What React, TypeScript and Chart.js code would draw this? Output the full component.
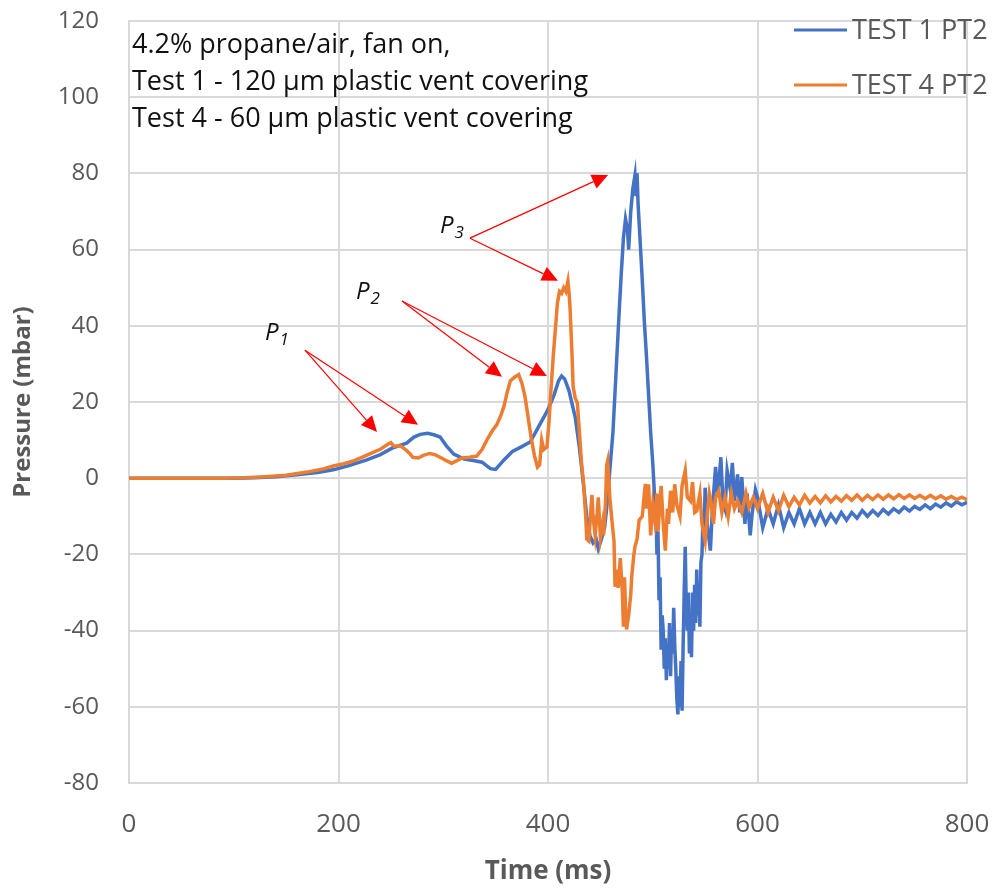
import React, { useEffect, useRef } from "react";
import { Chart, registerables } from "chart.js";

Chart.register(...registerables);

// ---------- DATA ----------
const TEST1_T: number[] = [0, 50, 100, 120, 140, 160, 180, 195, 210, 227, 240, 252, 265, 272, 278, 285, 291, 297, 303, 310, 320, 330, 337, 345, 350, 358, 366, 375, 383, 389, 395, 400, 406, 410, 413, 416, 420, 426, 430, 434, 437, 440, 443, 446, 448, 451, 454, 456, 459, 462, 465, 468, 470, 472, 474, 476, 477, 479, 481, 483, 484, 485, 486, 488, 490, 492, 494, 496, 498, 500, 502,
  503, 504, 505, 506, 507, 508, 509, 510, 511, 512, 513, 514, 515, 516, 517, 518, 519, 520, 521, 522, 523, 524, 525, 526, 527, 528, 529, 530, 531, 532, 533, 534, 535, 536, 537, 538, 539, 540, 541, 542, 543, 544, 545, 546, 547, 548, 549, 550,
  552, 555, 557, 560, 562, 565, 567, 569, 571, 574, 576, 578, 581, 583, 585, 588, 590, 593, 595, 598,
  600, 605, 610, 615, 620, 625, 630, 635, 640, 645, 650, 655, 660, 665, 670, 675, 680, 685, 690, 695, 700, 705, 710, 715, 720, 725, 730, 735, 740, 745, 750, 755, 760, 765, 770, 775, 780, 785, 790, 795, 800];
const TEST1_P: number[] = [0, 0, 0, 0.1, 0.4, 0.9, 1.5, 2.2, 3.3, 4.8, 6.2, 8, 9.2, 10.8, 11.5, 11.8, 11.4, 10.8, 8.5, 6.3, 5.0, 4.6, 4.2, 2.5, 2.3, 4.8, 7, 8.3, 9.5, 12.5, 15.5, 18, 22, 25.5, 26.8, 26, 23, 16, 8, -2, -10, -15, -17, -16, -18.5, -16, -13, -8, 2, 12, 28, 44, 54, 63, 68, 65, 60, 70, 76, 79.5, 74, 80, 72, 62, 52, 41, 32, 22, 12, 4, -6,
  -8, -20, -14, -32, -26, -45, -36, -40, -50, -42, -53, -44, -50, -38, -52, -40, -46, -34, -44, -50, -58, -62, -52, -60, -48, -61, -44, -30, -18, -34, -40, -30, -46, -38, -47, -30, -40, -28, -38, -24, -36, -28, -39, -22, -20, -10, -14, -2.5,
  -12, -19, -8, 3, -5, 5.5, -6, -8, 2, -3, 4, -6, 1, -9, 0.3, -12, -4, -15, -9, -3,
  -5, -13, -8, -12, -7, -13, -9, -12, -8, -12, -9, -12, -9, -12, -9.5, -11.5, -9, -11, -9, -10.5, -8.5, -10, -8.5, -9.8, -8.2, -9.4, -8, -9, -7.6, -8.6, -7.4, -8.2, -7, -8, -6.8, -7.6, -6.5, -7.3, -6.2, -7, -6.3];

const TEST4_T: number[] = [0, 50, 90, 110, 130, 150, 170, 185, 195, 205, 215, 225, 233, 240, 247, 250, 253, 259, 264, 268, 271, 276, 281, 287, 292, 297, 303, 308, 313, 318, 325, 332, 337, 342, 347, 351, 355, 358, 361, 364, 368, 372, 375, 378, 381, 384, 387, 390, 392, 394, 396, 399, 401, 403, 405, 407, 409, 411, 413, 415, 417, 419, 420, 421, 423, 424, 426, 428, 430, 432, 434, 436, 437, 439, 441, 442, 443, 445, 447, 448, 450, 452, 453, 455, 456, 457, 458, 459, 461, 463, 464, 466, 467, 469, 471, 472, 473, 474, 475, 477, 479, 480, 482, 483, 485, 487, 490, 492, 493, 494, 496, 498, 500, 502, 504, 505, 507, 508, 510, 512, 514, 515, 517, 519, 521, 523, 526, 528, 531, 533, 536, 538, 540, 542, 545, 547, 550, 552, 554, 556, 558, 560, 563, 566, 569, 572, 575, 578, 581, 585, 589, 592, 596,
  600, 605, 610, 615, 620, 625, 630, 635, 640, 645, 650, 655, 660, 665, 670, 675, 680, 685, 690, 695, 700, 705, 710, 715, 720, 725, 730, 735, 740, 745, 750, 755, 760, 765, 770, 775, 780, 785, 790, 795, 800];
const TEST4_P: number[] = [0, 0, 0, 0.1, 0.4, 0.8, 1.6, 2.4, 3.2, 3.8, 4.6, 5.8, 6.8, 7.6, 8.9, 9.3, 8.4, 8.5, 7.5, 6.5, 5.5, 5.3, 6.0, 6.5, 6.2, 5.5, 4.6, 3.9, 4.6, 5.3, 5.5, 5.8, 7.5, 10.2, 12.5, 14, 16.5, 18.9, 22.5, 25.5, 26.5, 27.2, 25, 21.5, 16, 10.5, 6, 2.9, 3.5, 10, 7.5, 8.2, 15, 24, 32, 39, 46, 49, 48.5, 50, 49, 51.7, 49, 45, 32, 24, 21, 19.8, 12, 4, -1.5, -10, -16, -16.5, -8, -4.4, -10, -15, -9, -5, -15.6, -12, -15, -6, 3.4, 4.6, 0, -5, -11, -16.5, -28.5, -24, -28.8, -21, -30, -39, -26, -34, -39.7, -36, -30.5, -25.6, -20, -18, -16, -11, -10, -4, -1.5, -8, -1.6, -15, -7, -11, -4, -14, -6, -2, -12, -19, -8, -12, -3.3, -9, -1.6, -7, -10, -2, 2, -5, -6, -1, -9, -8.6, -4, -12, -16.5, -10, -4, -6.8, -12, -5, -3.3, -9, -5, -10, -4, -8, -6, -9, -4, -7.7, -5,
  -8, -4, -9, -5, -8.5, -4.5, -7.5, -5, -7, -4.5, -6.5, -4.8, -6.5, -4.6, -6.2, -4.8, -6, -4.6, -5.8, -4.4, -5.8, -4.5, -5.6, -4.4, -5.5, -4.4, -5.4, -4.3, -5.3, -4.4, -5.3, -4.5, -5.4, -4.5, -5.4, -4.6, -5.5, -4.8, -5.6, -5, -5.6];

const SERIES_NAMES = ["TEST 1 PT2", "TEST 4 PT2"];
const X_TICKS = [0, 200, 400, 600, 800];
const Y_TICKS = [-80, -60, -40, -20, 0, 20, 40, 60, 80, 100, 120];
const NOTE_LINES = [
  "4.2% propane/air, fan on,",
  "Test 1 - 120 \u00b5m plastic vent covering",
  "Test 4 - 60 \u00b5m plastic vent covering",
];
// Annotation labels in data coordinates: [label, subscript, x, y]
const PEAK_LABELS: [string, string, number, number][] = [
  ["P", "1", 129.8, 36.3],
  ["P", "2", 216.7, 47],
  ["P", "3", 296.9, 64.4],
];
// Arrows in data coordinates: [fromX, fromY, toX, toY]
const ARROWS: [number, number, number, number][] = [
  [168, 33.6, 236.8, 12.1],
  [168, 33.6, 275.9, 14.0],
  [260.6, 46.5, 356.1, 26.6],
  [260.6, 46.5, 399, 26.8],
  [325.5, 63, 409.5, 51.8],
  [325.5, 63, 457.3, 79.6],
];

const BLUE = "#4472C4";
const ORANGE = "#ED7D31";
const GRID = "#d9d9d9";
const TEXT = "#595959";
const FONT = "'Open Sans', 'DejaVu Sans', sans-serif";

const toPoints = (t: number[], p: number[]) => t.map((x, i) => ({ x, y: p[i] }));

const overlayPlugin = {
  id: "overlay",
  afterDraw(chart: any) {
    const ctx = chart.ctx as CanvasRenderingContext2D;
    const xs = chart.scales.x;
    const ys = chart.scales.y;
    ctx.save();

    // note text
    ctx.fillStyle = "#111";
    ctx.font = `27px ${FONT}`;
    ctx.textAlign = "left";
    ctx.textBaseline = "alphabetic";
    const baselines = [53, 90, 127];
    NOTE_LINES.forEach((line, i) => ctx.fillText(line, 132, baselines[i]));

    // legend
    const legY = [30, 85];
    const colors = [BLUE, ORANGE];
    SERIES_NAMES.forEach((name, i) => {
      ctx.strokeStyle = colors[i];
      ctx.lineWidth = 3;
      ctx.beginPath();
      ctx.moveTo(794, legY[i]);
      ctx.lineTo(847, legY[i]);
      ctx.stroke();
      ctx.fillStyle = TEXT;
      ctx.font = `27px ${FONT}`;
      ctx.textBaseline = "middle";
      ctx.fillText(name, 852, legY[i] + 1);
    });

    // arrows
    ctx.strokeStyle = "#FF0000";
    ctx.fillStyle = "#FF0000";
    ctx.lineWidth = 1.2;
    ARROWS.forEach(([x0, y0, x1, y1]) => {
      const px0 = xs.getPixelForValue(x0);
      const py0 = ys.getPixelForValue(y0);
      const px1 = xs.getPixelForValue(x1);
      const py1 = ys.getPixelForValue(y1);
      const ang = Math.atan2(py1 - py0, px1 - px0);
      const L = 16;
      const W = 7.5;
      const bx = px1 - L * Math.cos(ang);
      const by = py1 - L * Math.sin(ang);
      ctx.beginPath();
      ctx.moveTo(px0, py0);
      ctx.lineTo(bx, by);
      ctx.stroke();
      ctx.beginPath();
      ctx.moveTo(px1, py1);
      ctx.lineTo(bx + W * Math.sin(ang), by - W * Math.cos(ang));
      ctx.lineTo(bx - W * Math.sin(ang), by + W * Math.cos(ang));
      ctx.closePath();
      ctx.fill();
    });

    // peak labels
    ctx.fillStyle = "#111";
    ctx.textBaseline = "alphabetic";
    PEAK_LABELS.forEach(([lab, sub, x, y]) => {
      const px = xs.getPixelForValue(x);
      const py = ys.getPixelForValue(y);
      ctx.font = `italic 24px ${FONT}`;
      ctx.fillText(lab, px, py);
      const w = ctx.measureText(lab).width;
      ctx.font = `italic 17px ${FONT}`;
      ctx.fillText(sub, px + w + 1, py + 5);
    });

    ctx.restore();
  },
};

export default function App() {
  const ref = useRef<HTMLCanvasElement | null>(null);

  useEffect(() => {
    if (!ref.current) return;
    const chart = new Chart(ref.current, {
      type: "line",
      data: {
        datasets: [
          {
            label: SERIES_NAMES[0],
            data: toPoints(TEST1_T, TEST1_P),
            borderColor: BLUE,
            backgroundColor: BLUE,
            borderWidth: 3.5,
            pointRadius: 0,
            tension: 0,
            order: 1,
          },
          {
            label: SERIES_NAMES[1],
            data: toPoints(TEST4_T, TEST4_P),
            borderColor: ORANGE,
            backgroundColor: ORANGE,
            borderWidth: 3.5,
            pointRadius: 0,
            tension: 0,
            order: 0,
          },
        ],
      },
      options: {
        responsive: false,
        animation: false,
        devicePixelRatio: 1,
        layout: { padding: { top: 21, right: 27, left: 0, bottom: 0 } },
        plugins: { legend: { display: false }, tooltip: { enabled: false } },
        scales: {
          x: {
            type: "linear",
            min: 0,
            max: 800,
            afterBuildTicks: (s: any) => {
              s.ticks = X_TICKS.map((v) => ({ value: v }));
            },
            afterFit: (s: any) => {
              s.height = 109;
              s.paddingLeft = 0;
              s.paddingRight = 0;
              s.paddingTop = 0;
              s.paddingBottom = 0;
            },
            ticks: { color: TEXT, font: { family: FONT, size: 26 }, padding: 26 },
            grid: { color: GRID, lineWidth: 2, drawTicks: false },
            border: { color: GRID, width: 2 },
            title: {
              display: true,
              text: "Time (ms)",
              color: TEXT,
              font: { family: FONT, size: 26, weight: "bold" },
              padding: { top: 0, bottom: 5 },
            },
          },
          y: {
            type: "linear",
            min: -80,
            max: 120,
            afterBuildTicks: (s: any) => {
              s.ticks = Y_TICKS.map((v) => ({ value: v }));
            },
            afterFit: (s: any) => {
              s.width = 129;
              s.paddingLeft = 0;
              s.paddingRight = 0;
              s.paddingTop = 0;
              s.paddingBottom = 0;
            },
            ticks: { color: TEXT, font: { family: FONT, size: 24 }, padding: 30 },
            grid: { color: GRID, lineWidth: 2, drawTicks: false },
            border: { color: GRID, width: 2 },
            title: {
              display: true,
              text: "Pressure (mbar)",
              color: TEXT,
              font: { family: FONT, size: 24, weight: "bold" },
              padding: { top: 9, bottom: 0 },
            },
          },
        },
      },
      plugins: [overlayPlugin],
    } as any);
    return () => chart.destroy();
  }, []);

  return (
    <div style={{ position: "fixed", left: 0, top: 0, width: 994, height: 892, background: "#fff" }}>
      <canvas ref={ref} width={994} height={892} style={{ width: 994, height: 892, display: "block" }} />
    </div>
  );
}
